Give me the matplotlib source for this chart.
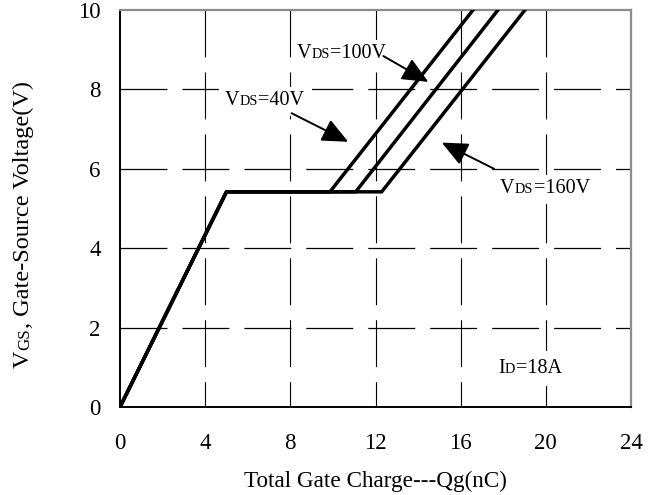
import matplotlib
matplotlib.use('Agg')
import matplotlib.pyplot as plt
from matplotlib.transforms import IdentityTransform
from matplotlib.patches import Rectangle

plt.rcParams['font.family'] = ['Liberation Serif', 'DejaVu Serif']
plt.rcParams['lines.scale_dashes'] = False

# ---- data ----
qg_knee = 5.0            # nC, end of initial rise
vgs_plateau = 5.42       # V, Miller plateau
vds_labels = ['40V', '100V', '160V']
qg_plateau_end = [9.86, 11.07, 12.29]
qg_at_10v = [16.58, 17.75, 19.02]
vgs_top = 10.0

x_ticks = [0, 4, 8, 12, 16, 20, 24]
y_ticks = [0, 2, 4, 6, 8, 10]

# label anchors (data coords, left/baseline) and arrows (tail -> tip)
label_pos = {'40V': (4.93, 7.61), '100V': (8.31, 8.78), '160V': (17.85, 5.39)}
arrow_tail = {'40V': (8.06, 7.40), '100V': (12.37, 8.84), '160V': (17.57, 6.00)}
arrow_tip = {'40V': (10.72, 6.68), '100V': (14.48, 8.19), '160V': (15.11, 6.66)}
id_label_pos = (17.75, 0.86)

W, H = 657, 495
fig = plt.figure(figsize=(W / 100, H / 100), dpi=100)
ax = fig.add_axes([120 / W, 1 - 407 / H, 511 / W, 397 / H])
ax.set_xlim(x_ticks[0], x_ticks[-1])
ax.set_ylim(y_ticks[0], y_ticks[-1])

# grid (dashed) drawn manually
dash = (0, (33.8, 10.8))
for xv in x_ticks[1:-1]:
    ax.plot([xv, xv], [y_ticks[-1], y_ticks[0]], color='black', lw=0.8,
            linestyle=dash, zorder=1)
for yv in y_ticks[1:-1]:
    ax.plot([x_ticks[0], x_ticks[-1]], [yv, yv], color='black', lw=0.9,
            linestyle=dash, zorder=1)

for pe, pt in zip(qg_plateau_end, qg_at_10v):
    ax.plot([0, qg_knee, pe, pt], [0, vgs_plateau, vgs_plateau, vgs_top],
            color='black', lw=2.5, solid_joinstyle='miter', zorder=3)

ax.set_xticks(x_ticks)
ax.set_yticks(y_ticks)
ax.set_xticklabels([str(v) for v in x_ticks], fontsize=16.5)
ax.set_yticklabels([str(v) for v in y_ticks], fontsize=16.5)
ax.tick_params(axis='x', length=0, pad=19)
ax.tick_params(axis='y', length=0, pad=14)

for s in ['left', 'bottom']:
    ax.spines[s].set_color('black')
    ax.spines[s].set_linewidth(1.4)
for s in ['top', 'right']:
    ax.spines[s].set_color('#8c8c8c')
    ax.spines[s].set_linewidth(1.6)

renderer = fig.canvas.get_renderer()


def rich_text(px, py, pieces, rotation=0, box=None):
    texts = []
    off = 0.0
    for s, size in pieces:
        pos = (px + off, py) if rotation == 0 else (px, py + off)
        t = ax.text(pos[0], pos[1], s, fontsize=size, transform=IdentityTransform(),
                    ha='left', va='baseline', rotation=rotation,
                    rotation_mode='anchor', zorder=6, clip_on=False)
        bb = t.get_window_extent(renderer)
        off += (bb.width if rotation == 0 else bb.height) + 0.3
        texts.append(t)
    if box is not None:
        bbs = [t.get_window_extent(renderer) for t in texts]
        x0 = min(b.x0 for b in bbs); x1 = max(b.x1 for b in bbs)
        y0 = min(b.y0 for b in bbs); y1 = max(b.y1 for b in bbs)
        l, r, b_, t_ = box
        ax.add_patch(Rectangle((x0 - l, y0 - b_), x1 - x0 + l + r, y1 - y0 + b_ + t_,
                               transform=IdentityTransform(), facecolor='white',
                               edgecolor='none', zorder=2.5, clip_on=False))
    return off


main_fs, sub_fs = 14.5, 10.2
for lab in vds_labels:
    px, py = ax.transData.transform(label_pos[lab])
    rich_text(px, py, [('V', main_fs), ('DS', sub_fs), ('=' + lab, main_fs)],
              box=(6, 8, 6, 4))
    ax.annotate('', xy=arrow_tip[lab], xytext=arrow_tail[lab],
                arrowprops=dict(arrowstyle='-|>,head_length=1.6,head_width=0.72',
                                mutation_scale=10, lw=1.4, color='black',
                                shrinkA=0, shrinkB=0), zorder=5)

px, py = ax.transData.transform(id_label_pos)
rich_text(px, py, [('I', main_fs), ('D', sub_fs), ('=18A', main_fs)], box=(6, 6, 8, 8))

# y label (rotated rich text)
pieces_y = [('V', 17.5), ('GS', 12.2), (', Gate-Source Voltage(V)', 17.5)]
tmp = 0.0
for s, size in pieces_y:
    t = fig.text(0, 0, s, fontsize=size)
    tmp += t.get_window_extent(renderer).width + 0.3
    t.remove()
centre_y = H - 224
rich_text(29, centre_y - tmp / 2, pieces_y, rotation=90)

# x label
fig.text(375 / W, 8 / H, 'Total Gate Charge---Qg(nC)', fontsize=16.7,
         ha='center', va='baseline')

fig.savefig('out.png', dpi=100)
